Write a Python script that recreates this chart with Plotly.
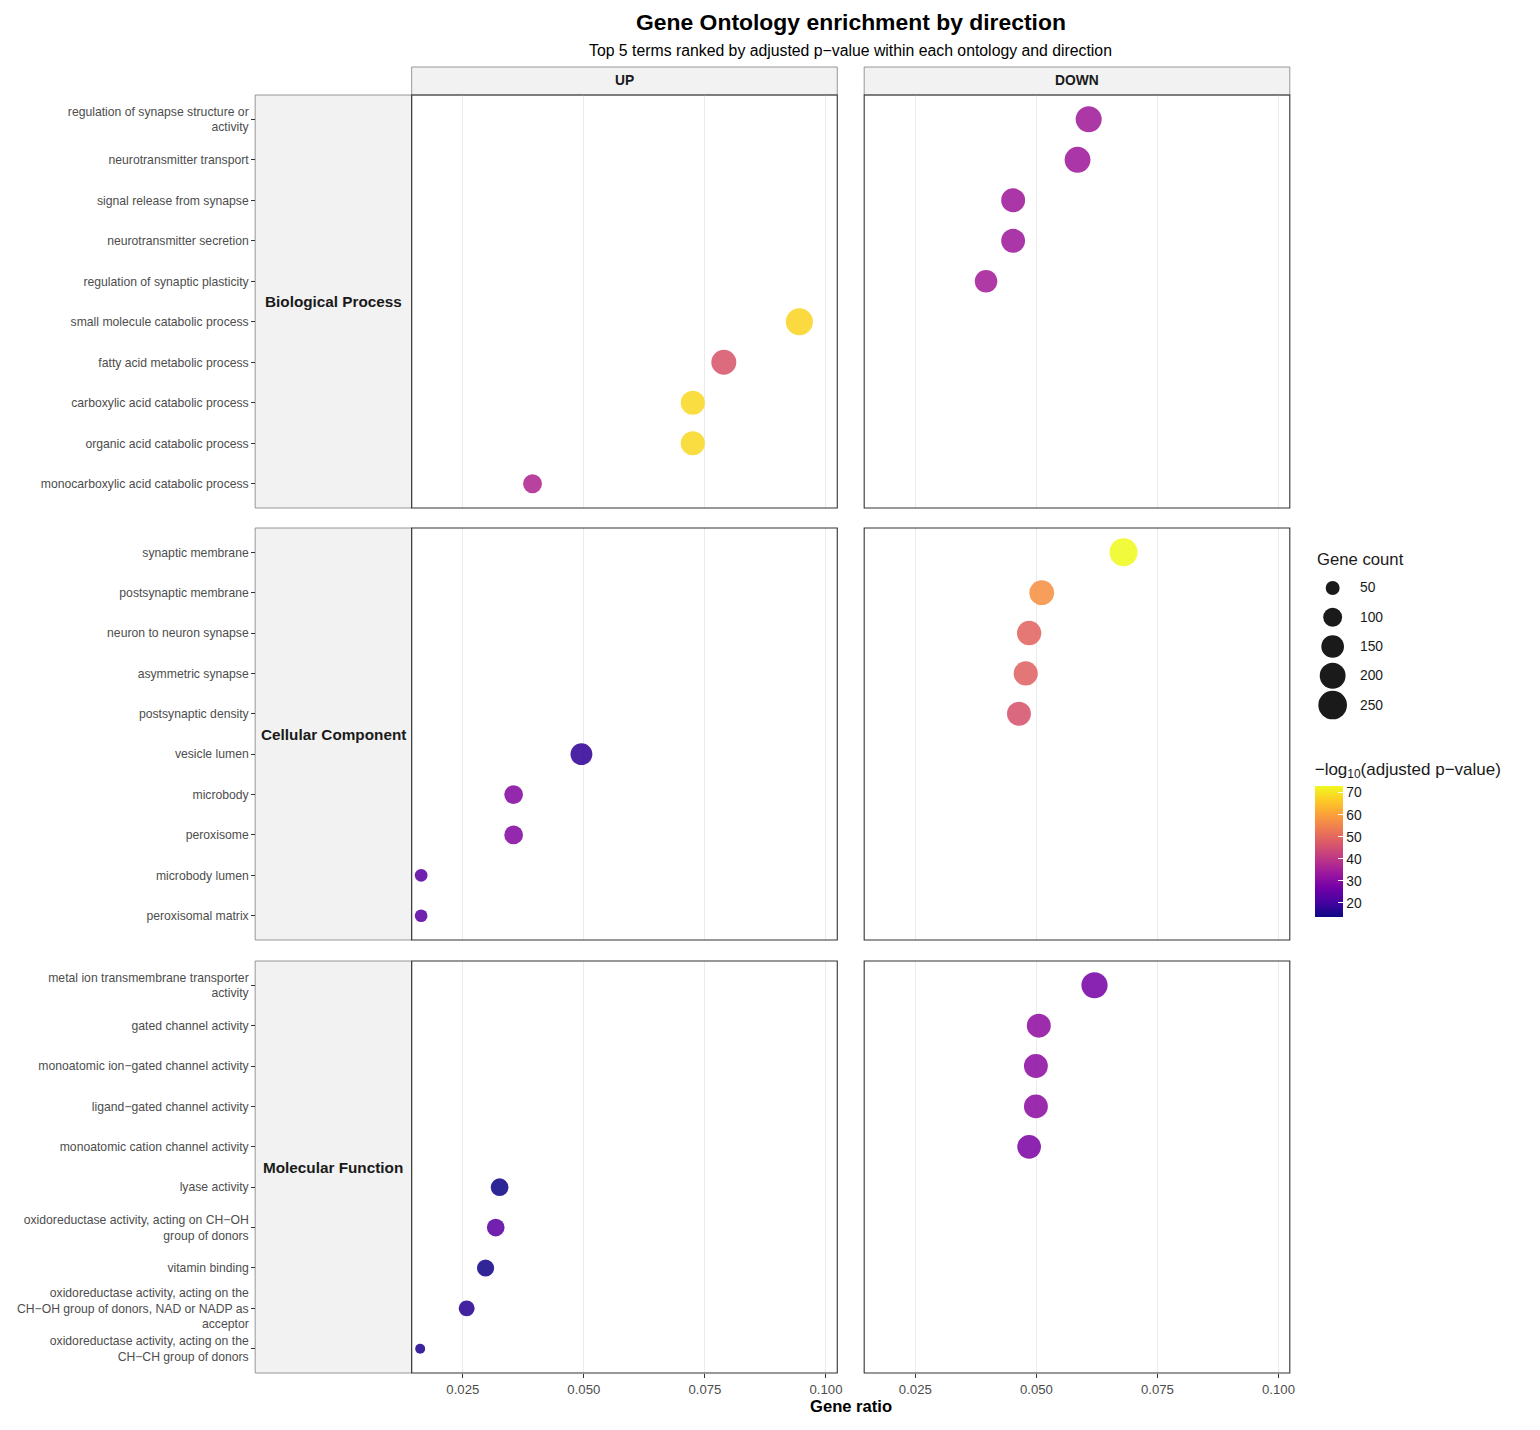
import textwrap
import numpy as np
import plotly.graph_objects as go

# ---------------- data ----------------
ontologies = ["Biological Process", "Cellular Component", "Molecular Function"]
directions = ["UP", "DOWN"]

terms = [
    # Biological Process
    "regulation of synapse structure or activity",
    "neurotransmitter transport",
    "signal release from synapse",
    "neurotransmitter secretion",
    "regulation of synaptic plasticity",
    "small molecule catabolic process",
    "fatty acid metabolic process",
    "carboxylic acid catabolic process",
    "organic acid catabolic process",
    "monocarboxylic acid catabolic process",
    # Cellular Component
    "synaptic membrane",
    "postsynaptic membrane",
    "neuron to neuron synapse",
    "asymmetric synapse",
    "postsynaptic density",
    "vesicle lumen",
    "microbody",
    "peroxisome",
    "microbody lumen",
    "peroxisomal matrix",
    # Molecular Function
    "metal ion transmembrane transporter activity",
    "gated channel activity",
    "monoatomic ion\u2212gated channel activity",
    "ligand\u2212gated channel activity",
    "monoatomic cation channel activity",
    "lyase activity",
    "oxidoreductase activity, acting on CH\u2212OH group of donors",
    "vitamin binding",
    "oxidoreductase activity, acting on the CH\u2212OH group of donors, NAD or NADP as acceptor",
    "oxidoreductase activity, acting on the CH\u2212CH group of donors",
]
term_ontology = (["Biological Process"] * 10 + ["Cellular Component"] * 10
                 + ["Molecular Function"] * 10)
term_direction = (["DOWN"] * 5 + ["UP"] * 5) * 3

gene_ratio = [
    0.0608, 0.0585, 0.0452, 0.0452, 0.0396,
    0.0945, 0.0789, 0.0725, 0.0725, 0.0394,
    0.0680, 0.0511, 0.0485, 0.0478, 0.0464,
    0.0495, 0.0355, 0.0355, 0.0164, 0.0164,
    0.0620, 0.0505, 0.0499, 0.0499, 0.0485,
    0.0326, 0.0318, 0.0297, 0.0258, 0.0162,
]
gene_count = [
    202, 200, 168, 168, 148,
    222, 185, 172, 172, 100,
    238, 182, 176, 172, 170,
    138, 98, 98, 40, 40,
    205, 170, 168, 168, 165,
    86, 86, 80, 68, 22,
]
neg_log10_padj = [
    34.5, 34.0, 34.0, 34.0, 35.0,
    68.0, 46.5, 68.5, 68.5, 37.0,
    73.2, 57.5, 49.5, 49.0, 46.0,
    18.0, 30.0, 30.0, 23.5, 23.5,
    28.0, 31.5, 31.0, 31.0, 28.5,
    14.0, 24.0, 14.5, 17.0, 16.0,
]

x_ticks = [0.025, 0.050, 0.075, 0.100]
x_tick_labels = ["0.025", "0.050", "0.075", "0.100"]
size_legend_values = [50, 100, 150, 200, 250]
color_ticks = [20, 30, 40, 50, 60, 70]

# ---------------- styling / geometry ----------------
W, H = 1540, 1430
FONT = "Liberation Sans, Arial, sans-serif"
col_px = [(413, 840), (867, 1294)]
row_px = [(95, 508), (528, 940), (961, 1373)]
strip_left_px = 256
top_strip_px = (67, 95)
x_range = [0.01444, 0.10233]
cbar_title_px = 27


def fx(p):
    return p / W


def fy(p):
    return 1 - p / H


def diam(c):
    return 2.1 + 1.68 * np.sqrt(np.asarray(c, dtype=float))


def wrap(s):
    return "<br>".join(textwrap.wrap(s, width=40))


fig = go.Figure()
shapes = []
annotations = []
layout = {}

for r, ont in enumerate(ontologies):
    idx = [i for i, o in enumerate(term_ontology) if o == ont]
    cats = [terms[i] for i in idx]
    for c, d in enumerate(directions):
        k = r * 2 + c + 1
        sfx = "" if k == 1 else str(k)
        sel = [i for i in idx if term_direction[i] == d]
        fig.add_trace(go.Scatter(
            x=[gene_ratio[i] for i in sel],
            y=[cats.index(terms[i]) for i in sel],
            mode="markers",
            xaxis="x" + sfx, yaxis="y" + sfx,
            marker=dict(
                size=diam([gene_count[i] for i in sel]),
                color=[neg_log10_padj[i] for i in sel],
                coloraxis="coloraxis",
                opacity=0.88,
                line=dict(width=0),
            ),
            text=[terms[i] for i in sel],
            customdata=[gene_count[i] for i in sel],
            hovertemplate="%{text}<br>Gene ratio: %{x}<br>Count: %{customdata}<extra></extra>",
            showlegend=False,
        ))
        x0, x1 = col_px[c]
        y0, y1 = row_px[r]
        bottom = (r == len(ontologies) - 1)
        layout["xaxis" + sfx] = dict(
            domain=[fx(x0), fx(x1)], anchor="y" + sfx, range=x_range,
            tickvals=x_ticks, ticktext=x_tick_labels,
            showticklabels=bottom, ticks="outside" if bottom else "",
            ticklen=4, tickcolor="#333333", tickwidth=1,
            tickfont=dict(size=13.2, color="#4D4D4D", family=FONT),
            showgrid=True, gridcolor="#EBEBEB", gridwidth=1.1,
            zeroline=False, showline=False, fixedrange=True,
        )
        ya = dict(
            domain=[fy(y1), fy(y0)], range=[len(cats) - 0.4, -0.6],
            tickvals=list(range(len(cats))),
            ticktext=[wrap(t) for t in cats],
            showgrid=False, zeroline=False, showline=False, fixedrange=True,
            tickfont=dict(size=12.2, color="#4D4D4D", family=FONT),
        )
        if c == 0:
            ya.update(anchor="free", position=fx(strip_left_px), ticks="outside",
                      ticklen=4, tickcolor="#333333", tickwidth=1,
                      showticklabels=True)
        else:
            ya.update(anchor="x" + sfx, ticks="", showticklabels=False)
        layout["yaxis" + sfx] = ya
        # panel border
        shapes.append(dict(type="rect", xref="x" + sfx + " domain", yref="y" + sfx + " domain",
                           x0=0, x1=1, y0=0, y1=1, line=dict(color="#333333", width=1.1),
                           fillcolor="rgba(0,0,0,0)", layer="above"))
    # left strip
    y0, y1 = row_px[r]
    shapes.append(dict(type="rect", xref="paper", yref="paper",
                       x0=fx(strip_left_px), x1=fx(col_px[0][0]), y0=fy(y1), y1=fy(y0),
                       fillcolor="#F2F2F2", line=dict(color="#7F7F7F", width=0.8),
                       layer="below"))
    annotations.append(dict(text="<b>%s</b>" % ont, xref="paper", yref="paper",
                            x=fx((strip_left_px + col_px[0][0]) / 2), y=fy((y0 + y1) / 2),
                            showarrow=False, xanchor="center", yanchor="middle",
                            font=dict(size=15.3, color="#1A1A1A", family=FONT)))

# top strips
for c, d in enumerate(directions):
    x0, x1 = col_px[c]
    shapes.append(dict(type="rect", xref="paper", yref="paper",
                       x0=fx(x0), x1=fx(x1), y0=fy(top_strip_px[1]), y1=fy(top_strip_px[0]),
                       fillcolor="#F2F2F2", line=dict(color="#7F7F7F", width=0.8),
                       layer="below"))
    annotations.append(dict(text="<b>%s</b>" % d, xref="paper", yref="paper",
                            x=fx((x0 + x1) / 2), y=fy(sum(top_strip_px) / 2),
                            showarrow=False, xanchor="center", yanchor="middle",
                            font=dict(size=13.8, color="#1A1A1A", family=FONT)))

# size legend (drawn on its own hidden axes)
fig.add_trace(go.Scatter(
    x=[0] * len(size_legend_values), y=list(range(len(size_legend_values))),
    mode="markers", xaxis="x7", yaxis="y7", opacity=1,
    marker=dict(size=diam(size_legend_values), color="#1A1A1A", opacity=1,
                line=dict(width=0)),
    hoverinfo="skip", showlegend=False, cliponaxis=False,
))
layout["xaxis7"] = dict(domain=[fx(1320), fx(1420)], range=[-1, 100 / 17 - 1],
                        visible=False, fixedrange=True, anchor="y7")
layout["yaxis7"] = dict(domain=[fy(718), fy(575)], range=[4.444, -0.444],
                        visible=False, fixedrange=True, anchor="x7")
for j, v in enumerate(size_legend_values):
    annotations.append(dict(text=str(v), xref="x7", yref="y7", x=25 / 17, y=j,
                            showarrow=False, xanchor="left", yanchor="middle",
                            font=dict(size=13.8, color="#1A1A1A", family=FONT)))
annotations.append(dict(text="Gene count", xref="paper", yref="paper",
                        x=fx(1319), y=fy(559), showarrow=False, xanchor="left",
                        yanchor="middle", font=dict(size=16.7, color="#1A1A1A", family=FONT)))

# titles
annotations.append(dict(text="<b>Gene Ontology enrichment by direction</b>",
                        xref="paper", yref="paper", x=fx(853.5), y=fy(22),
                        showarrow=False, xanchor="center", yanchor="middle",
                        font=dict(size=22.9, color="#000000", family=FONT)))
annotations.append(dict(text="Top 5 terms ranked by adjusted p\u2212value within each ontology and direction",
                        xref="paper", yref="paper", x=fx(853.5), y=fy(50),
                        showarrow=False, xanchor="center", yanchor="middle",
                        font=dict(size=15.8, color="#000000", family=FONT)))
annotations.append(dict(text="<b>Gene ratio</b>", xref="paper", yref="paper",
                        x=fx(853.5), y=fy(1406), showarrow=False,
                        xanchor="center", yanchor="middle",
                        font=dict(size=16.6, color="#000000", family=FONT)))

fig.update_layout(
    width=W, height=H,
    margin=dict(l=0, r=0, t=0, b=0),
    paper_bgcolor="white", plot_bgcolor="white",
    font=dict(family=FONT, color="#1A1A1A"),
    shapes=shapes, annotations=annotations,
    showlegend=False,
    coloraxis=dict(
        colorscale="Plasma", cmin=13.6, cmax=73.2,
        colorbar=dict(
            x=fx(1319), xanchor="left", y=fy(786 - cbar_title_px), yanchor="top",
            len=(131 + cbar_title_px) / H, lenmode="fraction", thickness=28,
            thicknessmode="pixels",
            xpad=0, ypad=0, outlinewidth=0,
            ticks="inside", ticklen=5, tickcolor="white", tickwidth=1,
            tickvals=color_ticks,
            tickfont=dict(size=13.8, color="#1A1A1A", family=FONT),
            title=dict(text="\u2212log<sub>10</sub>(adjusted p\u2212value)", side="top",
                       font=dict(size=17, color="#1A1A1A", family=FONT)),
        ),
    ),
    **layout,
)

fig.write_html("out.html")
